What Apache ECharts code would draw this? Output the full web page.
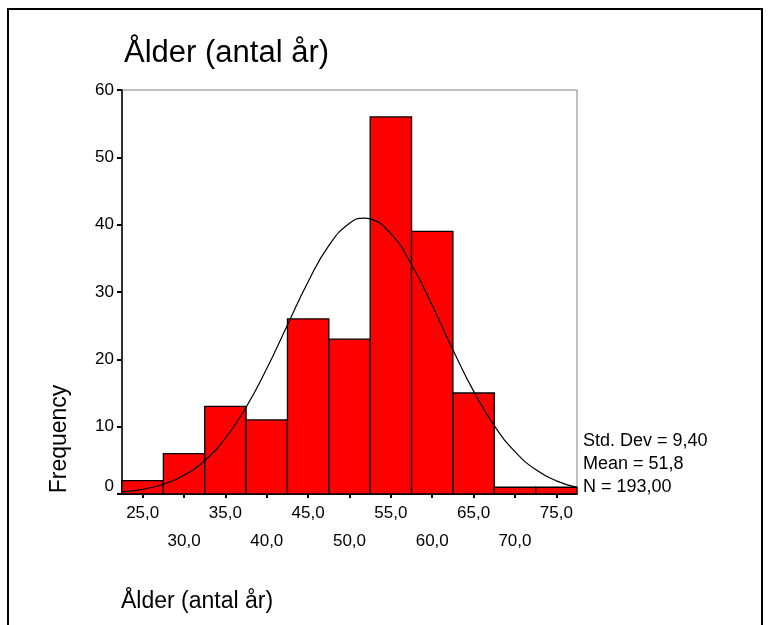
<!DOCTYPE html>
<html>
<head>
<meta charset="utf-8">
<script src="https://cdn.jsdelivr.net/npm/echarts@6/dist/echarts.min.js"></script>
<style>
html,body{margin:0;padding:0;background:#fff;}
#chart{width:770px;height:625px;}
</style>
</head>
<body>
<div id="chart"></div>
<script>
// Histogram bins (midpoints) and frequencies
const binCenters = [25, 30, 35, 40, 45, 50, 55, 60, 65, 70, 75];
const frequencies = [2, 6, 13, 11, 26, 23, 56, 39, 15, 1, 1];
const binWidth = 5;

// Normal curve (x, frequency)
const curveX = [22.5, 25, 27.5, 30, 32.5, 35, 37.5, 40, 42.5, 45, 47.5, 50, 51.8, 52.5, 55, 57.5, 60, 62.5, 65, 67.5, 70, 72.5, 75, 77.5];
const curveY = [0.32, 0.70, 1.45, 2.78, 4.98, 8.30, 12.88, 18.63, 25.11, 31.53, 36.89, 40.22, 40.96, 40.85, 38.66, 34.08, 28.00, 21.43, 15.28, 10.15, 6.29, 3.63, 1.95, 0.98];

// Tick labels
const xTickValues = [25, 30, 35, 40, 45, 50, 55, 60, 65, 70, 75];
const yTicks = [0, 10, 20, 30, 40, 50, 60];

const titleText = 'Ålder (antal år)';
const xTitle = 'Ålder (antal år)';
const yTitle = 'Frequency';
const statsLines = ['Std. Dev = 9,40', 'Mean = 51,8', 'N = 193,00'];

const FONT = '"Liberation Sans", Arial, sans-serif';

const chart = echarts.init(document.getElementById('chart'), null, {renderer: 'canvas'});

const barData = binCenters.map((c, i) => [c, frequencies[i]]);
const curveData = curveX.map((x, i) => [x, curveY[i]]);

function fmt(v) { return v.toFixed(1).replace('.', ','); }

const option = {
  backgroundColor: '#fff',
  animation: false,
  title: {
    text: titleText,
    left: 119,
    top: 33,
    textStyle: {fontFamily: FONT, fontSize: 31, fontWeight: 'normal', color: '#000'}
  },
  grid: {
    left: 122, right: 193, top: 90, bottom: 131,
    show: true, borderColor: '#808080', borderWidth: 1, backgroundColor: 'transparent'
  },
  xAxis: {
    type: 'value',
    min: 22.5, max: 77.5,
    axisLine: {show: true, onZero: false, lineStyle: {color: '#000', width: 1.5}},
    axisTick: {show: true, customValues: xTickValues, length: 4, inside: false, lineStyle: {color: '#000', width: 2}},
    axisLabel: {
      customValues: xTickValues,
      margin: 5,
      fontFamily: FONT, fontSize: 17, color: '#000', lineHeight: 28,
      formatter: function (v) {
        const idx = xTickValues.indexOf(v);
        return (idx % 2 === 0) ? fmt(v) : '\n' + fmt(v);
      }
    },
    splitLine: {show: false}
  },
  yAxis: {
    type: 'value',
    min: 0, max: 60, interval: 10,
    axisLine: {show: true, lineStyle: {color: '#000', width: 1.5}},
    axisTick: {show: true, length: 5, inside: false, lineStyle: {color: '#000', width: 2}},
    axisLabel: {
      margin: 8, fontFamily: FONT, fontSize: 17, color: '#000',
      formatter: function (v) { return v === 0 ? '{z|0}' : String(v); },
      rich: {z: {fontFamily: FONT, fontSize: 17, color: '#000', padding: [0, 0, 16, 0]}}
    },
    splitLine: {show: false}
  },
  series: [
    {
      type: 'custom',
      data: barData,
      z: 2,
      renderItem: function (params, api) {
        const c = api.value(0), f = api.value(1);
        const p1 = api.coord([c - binWidth / 2, f]);
        const p2 = api.coord([c + binWidth / 2, 0]);
        return {
          type: 'rect',
          shape: {x: p1[0], y: p1[1], width: p2[0] - p1[0], height: p2[1] - p1[1]},
          style: {fill: '#ff0000', stroke: '#000', lineWidth: 1.3}
        };
      }
    },
    {
      type: 'line',
      data: curveData,
      smooth: true,
      showSymbol: false,
      z: 5,
      lineStyle: {color: '#000', width: 1.2},
      clip: true
    }
  ],
  graphic: [
    {
      type: 'polyline',
      shape: {points: [[8, 625], [8, 9], [762, 9], [762, 625]]},
      style: {stroke: '#000', lineWidth: 2, fill: null}
    },
    {
      type: 'text',
      x: 60, y: 439,
      rotation: Math.PI / 2,
      style: {text: yTitle, font: '23px ' + FONT, fill: '#000', align: 'center', verticalAlign: 'middle'}
    },
    {
      type: 'text',
      x: 121, y: 602,
      style: {text: xTitle, font: '23px ' + FONT, fill: '#000', align: 'left', verticalAlign: 'middle'}
    },
    ...statsLines.map((t, i) => ({
      type: 'text',
      x: 583, y: 441 + i * 23,
      style: {text: t, font: '18px ' + FONT, fill: '#000', align: 'left', verticalAlign: 'middle'}
    }))
  ]
};

chart.setOption(option);
</script>
</body>
</html>
